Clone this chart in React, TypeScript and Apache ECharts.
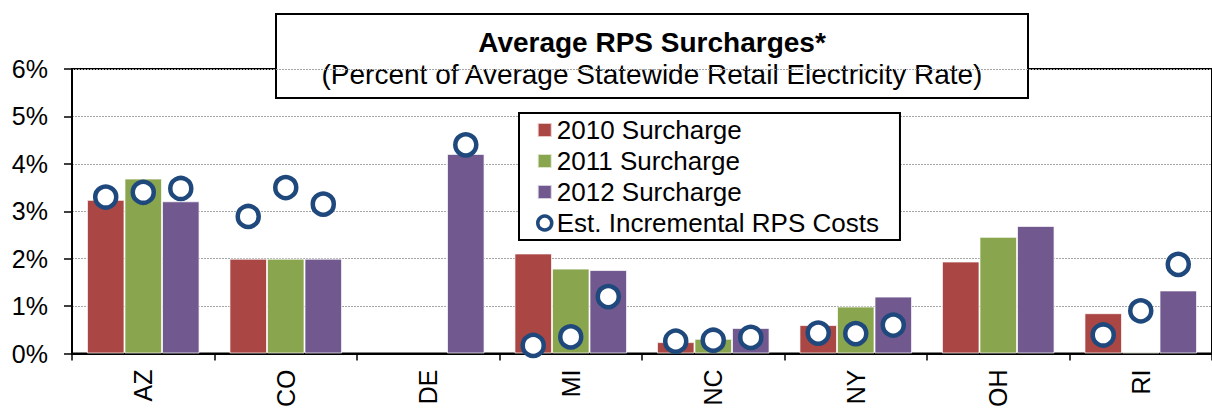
import React, { useEffect, useRef } from "react";
import * as echarts from "echarts";

const states = ["AZ", "CO", "DE", "MI", "NC", "NY", "OH", "RI"];
const surcharge2010 = [3.24, 2.0, null, 2.11, 0.24, 0.6, 1.94, 0.85];
const surcharge2011 = [3.69, 2.0, null, 1.79, 0.31, 0.99, 2.46, 0.03];
const surcharge2012 = [3.21, 2.0, 4.21, 1.76, 0.54, 1.2, 2.69, 1.33];
// Estimated incremental RPS costs, one per state and year (2010, 2011, 2012)
const estCost2010 = [3.3, 2.89, null, 0.17, 0.26, 0.43, null, 0.39];
const estCost2011 = [3.4, 3.5, null, 0.35, 0.28, 0.42, null, 0.9];
const estCost2012 = [3.48, 3.15, 4.4, 1.2, 0.34, 0.6, null, 1.88];
const yTicks = [0, 1, 2, 3, 4, 5, 6];

const RED = "#AA4643";
const GREEN = "#89A54E";
const PURPLE = "#71588F";
const BLUE = "#1F497D";
const FONT = "'Liberation Sans', Arial, sans-serif";
const CAT_GAP = 0.21;

export default function App() {
  const ref = useRef<HTMLDivElement>(null);
  useEffect(() => {
    document.body.style.margin = "0";
    const chart = echarts.init(ref.current!, null, { renderer: "svg" });
    const barW = (1 - CAT_GAP) / 3;
    const estSeries = [estCost2010, estCost2011, estCost2012];
    const scatterData: any[] = [];
    estSeries.forEach((arr, j) => {
      arr.forEach((v, i) => {
        if (v !== null) scatterData.push([i + 0.5 + (j - 1) * barW, v]);
      });
    });
    const barStyle = (c: string) => ({
      color: c,
      borderColor: "rgba(255,255,255,0.7)",
      borderWidth: 1,
    });
    chart.setOption({
      animation: false,
      textStyle: { fontFamily: FONT },
      grid: {
        left: 72,
        top: 69,
        right: -12,
        bottom: 53,
        show: true,
        borderColor: "#000",
        borderWidth: 2,
      },
      legend: {
        orient: "vertical",
        left: 519,
        top: 113,
        backgroundColor: "#fff",
        borderColor: "#000",
        borderWidth: 2,
        borderRadius: 0,
        padding: [3, 21, 3, 17],
        itemGap: 3,
        itemWidth: 14,
        itemHeight: 14,
        textStyle: { fontSize: 26, color: "#000", fontFamily: FONT, lineHeight: 28 },
        z: 20,
        data: [
          { name: "2010 Surcharge", icon: "rect" },
          { name: "2011 Surcharge", icon: "rect" },
          { name: "2012 Surcharge", icon: "rect" },
          {
            name: "Est. Incremental RPS Costs",
            icon: "circle",
            itemStyle: { color: "#fff", borderColor: BLUE, borderWidth: 3.5 },
          },
        ],
      },
      xAxis: [
        {
          type: "category",
          data: states,
          axisLine: { lineStyle: { color: "#000", width: 2 } },
          axisTick: { show: true, length: 7, lineStyle: { color: "#000", width: 1.5 } },
          axisLabel: {
            rotate: 90,
            fontSize: 25,
            color: "#000",
            margin: 16,
            fontFamily: FONT,
            interval: 0,
          },
        },
        { type: "value", min: 0, max: states.length, show: false },
      ],
      yAxis: {
        type: "value",
        min: yTicks[0],
        max: yTicks[yTicks.length - 1],
        interval: 1,
        axisLine: { show: true, lineStyle: { color: "#000", width: 2 } },
        axisTick: { show: true, length: 8, lineStyle: { color: "#000", width: 1.5 } },
        axisLabel: {
          formatter: "{value}%",
          fontSize: 25,
          color: "#000",
          margin: 24,
          fontFamily: FONT,
        },
        splitLine: { lineStyle: { color: "#A6A6A6", type: [2, 1], width: 1 } },
      },
      series: [
        {
          name: "2010 Surcharge",
          type: "bar",
          data: surcharge2010,
          barGap: "0%",
          barCategoryGap: CAT_GAP * 100 + "%",
          itemStyle: barStyle(RED),
        },
        { name: "2011 Surcharge", type: "bar", data: surcharge2011, itemStyle: barStyle(GREEN) },
        { name: "2012 Surcharge", type: "bar", data: surcharge2012, itemStyle: barStyle(PURPLE) },
        {
          name: "Est. Incremental RPS Costs",
          type: "scatter",
          xAxisIndex: 1,
          data: scatterData,
          symbol: "circle",
          symbolSize: 21,
          itemStyle: { color: "#fff", borderColor: BLUE, borderWidth: 4.5, opacity: 1 },
          z: 5,
        },
      ],
      graphic: [
        {
          type: "group",
          z: 30,
          children: [
            {
              type: "rect",
              shape: { x: 276, y: 14, width: 752, height: 84 },
              style: { fill: "#fff", stroke: "#000", lineWidth: 2 },
            },
            {
              type: "text",
              x: 652,
              y: 42,
              style: {
                text: "Average RPS Surcharges*",
                font: "bold 28px " + FONT,
                fill: "#000",
                textAlign: "center",
                textVerticalAlign: "middle",
              },
            },
            {
              type: "text",
              x: 652,
              y: 74,
              style: {
                text: "(Percent of Average Statewide Retail Electricity Rate)",
                font: "28px " + FONT,
                fill: "#000",
                textAlign: "center",
                textVerticalAlign: "middle",
              },
            },
          ],
        },
      ],
    });
    return () => chart.dispose();
  }, []);
  return <div ref={ref} style={{ width: 1212, height: 410 }} />;
}
